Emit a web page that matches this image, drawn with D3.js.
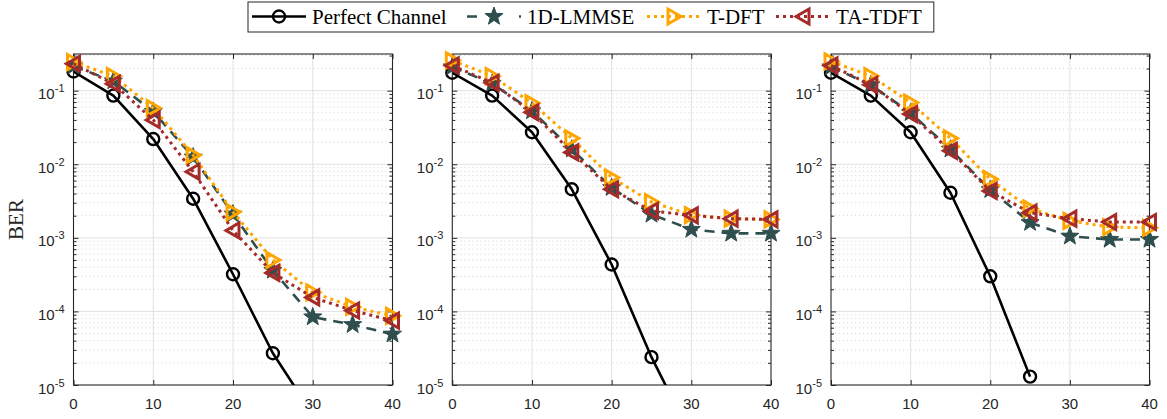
<!DOCTYPE html>
<html>
<head>
<meta charset="utf-8">
<script src="https://cdn.jsdelivr.net/npm/d3@7"></script>
<style>
html,body{margin:0;padding:0;background:#fff;}
svg{display:block;}
</style>
</head>
<body>
<svg id="chart" width="1167" height="419"></svg>
<script>
// ---------- DATA ----------
const snr = [0, 5, 10, 15, 20, 25, 30, 35, 40];
const seriesNames = ["Perfect Channel", "1D-LMMSE", "T-DFT", "TA-TDFT"];
const xTickValues = [0, 10, 20, 30, 40];
const yTickExponents = [-1, -2, -3, -4, -5];

// Panel 1
const perfect1 = [0.182, 0.0857, 0.022, 0.0034, 3.2e-4, 2.7e-5, 4e-6, null, null];
const lmmse1   = [0.215, 0.135, 0.052, 0.0125, 0.0021, 3.6e-4, 8.4e-5, 6.6e-5, 4.9e-5];
const tdft1    = [0.245, 0.158, 0.058, 0.0133, 0.00224, 5.0e-4, 1.82e-4, 1.15e-4, 8.7e-5];
const tatdft1  = [0.232, 0.124, 0.040, 0.0079, 0.00126, 3.34e-4, 1.55e-4, 1.03e-4, 7.5e-5];
// Panel 2
const perfect2 = [0.175, 0.0857, 0.0272, 0.00457, 4.34e-4, 2.39e-5, 2e-6, null, null];
const lmmse2   = [0.21, 0.125, 0.053, 0.016, 0.0048, 0.00208, 0.0013, 0.00115, 0.00115];
const tdft2    = [0.258, 0.158, 0.068, 0.0225, 0.0066, 0.00307, 0.00204, 0.00182, 0.00178];
const tatdft2  = [0.220, 0.128, 0.0508, 0.0145, 0.00457, 0.00232, 0.00202, 0.00182, 0.00178];
// Panel 3
const perfect3 = [0.175, 0.0857, 0.0272, 0.0041, 3.0e-4, 1.3e-5, null, null, null];
const lmmse3   = [0.21, 0.12, 0.05, 0.016, 0.0045, 0.00161, 0.00105, 0.00095, 0.00095];
const tdft3    = [0.25, 0.158, 0.069, 0.0225, 0.00627, 0.0025, 0.0017, 0.0014, 0.00137];
const tatdft3  = [0.22, 0.12, 0.048, 0.0152, 0.00434, 0.0022, 0.00182, 0.00164, 0.00164];

const panelsData = [
  [perfect1, lmmse1, tdft1, tatdft1],
  [perfect2, lmmse2, tdft2, tatdft2],
  [perfect3, lmmse3, tdft3, tatdft3]
];

// ---------- STYLE ----------
const styles = [
  {color: "#000000", width: 2.6, dash: null, marker: "circle"},
  {color: "#2F4F4F", width: 2.6, dash: "10,7", marker: "star"},
  {color: "#FFA500", width: 3, dash: "3,4", marker: "tri-right"},
  {color: "#A52A2A", width: 3, dash: "3,4", marker: "tri-left"}
];
const panelX = [[73.5, 392.5], [452.3, 771], [831, 1149.5]];
const plotTop = 54, plotBottom = 385;
const yTop = 0.315, yBottom = 1e-5;
const axisColor = "#262626";
const sansFont = "'Liberation Sans', Arial, sans-serif";
const serifFont = "'Liberation Serif', 'Times New Roman', serif";

const svg = d3.select("#chart");
const y = d3.scaleLog().domain([yBottom, yTop]).range([plotBottom, plotTop]);

function markerPath(type) {
  if (type === "star") {
    const pts = [];
    const R = 9.5, r = 3.9;
    for (let i = 0; i < 10; i++) {
      const a = -Math.PI / 2 + i * Math.PI / 5;
      const rr = i % 2 === 0 ? R : r;
      pts.push([rr * Math.cos(a), rr * Math.sin(a)]);
    }
    return "M" + pts.map(p => p.join(",")).join("L") + "Z";
  }
  if (type === "tri-right") return "M7,0L-6,-7.5L-6,7.5Z";
  if (type === "tri-left") return "M-7,0L6,-7.5L6,7.5Z";
  return null;
}

function drawMarker(g, type, color, cx, cy) {
  if (type === "circle") {
    g.append("circle").attr("cx", cx).attr("cy", cy).attr("r", 6)
      .attr("fill", "none").attr("stroke", color).attr("stroke-width", 2.4);
  } else if (type === "star") {
    g.append("path").attr("d", markerPath(type)).attr("transform", `translate(${cx},${cy})`)
      .attr("fill", color).attr("stroke", color).attr("stroke-width", 1);
  } else {
    g.append("path").attr("d", markerPath(type)).attr("transform", `translate(${cx},${cy})`)
      .attr("fill", "none").attr("stroke", color).attr("stroke-width", 3)
      .attr("stroke-linejoin", "miter");
  }
}

// minor tick values on log axis
const minorVals = [];
for (let e = -5; e <= -1; e++) {
  for (let m = 2; m <= 9; m++) {
    const v = m * Math.pow(10, e);
    if (v <= yTop) minorVals.push(v);
  }
}
const majorVals = yTickExponents.map(e => Math.pow(10, e));

panelsData.forEach((series, pi) => {
  const [x0, x1] = panelX[pi];
  const x = d3.scaleLinear().domain([0, 40]).range([x0, x1]);
  const g = svg.append("g");

  const clipId = "clip" + pi;
  svg.append("clipPath").attr("id", clipId).append("rect")
    .attr("x", x0).attr("y", plotTop).attr("width", x1 - x0).attr("height", plotBottom - plotTop);

  // minor grid
  g.append("g").selectAll("line").data(minorVals).join("line")
    .attr("x1", x0).attr("x2", x1).attr("y1", d => y(d)).attr("y2", d => y(d))
    .attr("stroke", "#cfcfcf").attr("stroke-width", 0.8).attr("stroke-dasharray", "1.2,2.8");
  // major grid
  g.append("g").selectAll("line").data(majorVals.filter(v => v > yBottom)).join("line")
    .attr("x1", x0).attr("x2", x1).attr("y1", d => y(d)).attr("y2", d => y(d))
    .attr("stroke", "#e1e1e1").attr("stroke-width", 1);
  g.append("g").selectAll("line").data(xTickValues.filter(v => v > 0 && v < 40)).join("line")
    .attr("x1", d => x(d)).attr("x2", d => x(d)).attr("y1", plotTop).attr("y2", plotBottom)
    .attr("stroke", "#e1e1e1").attr("stroke-width", 1);

  // axes via d3 axis generators (inward ticks)
  const xAxisB = d3.axisBottom(x).tickValues(xTickValues).tickSize(-5).tickFormat("");
  const xAxisT = d3.axisTop(x).tickValues(xTickValues).tickSize(-5).tickFormat("");
  const yAxisL = d3.axisLeft(y).tickValues(majorVals).tickSize(-5).tickFormat("");
  const yAxisR = d3.axisRight(y).tickValues(majorVals).tickSize(-5).tickFormat("");
  const yMinL = d3.axisLeft(y).tickValues(minorVals).tickSize(-3).tickFormat("");
  const yMinR = d3.axisRight(y).tickValues(minorVals).tickSize(-3).tickFormat("");
  [
    [xAxisB, `translate(0,${plotBottom})`],
    [xAxisT, `translate(0,${plotTop})`],
    [yAxisL, `translate(${x0},0)`],
    [yAxisR, `translate(${x1},0)`],
    [yMinL, `translate(${x0},0)`],
    [yMinR, `translate(${x1},0)`]
  ].forEach(([ax, tr]) => {
    const a = g.append("g").attr("transform", tr).call(ax);
    a.select(".domain").remove();
    a.selectAll("line").attr("stroke", axisColor).attr("stroke-width", 1);
  });
  // box
  g.append("rect").attr("x", x0).attr("y", plotTop).attr("width", x1 - x0).attr("height", plotBottom - plotTop)
    .attr("fill", "none").attr("stroke", axisColor).attr("stroke-width", 1.1);

  // x tick labels
  g.append("g").selectAll("text").data(xTickValues).join("text")
    .attr("x", d => x(d)).attr("y", 409).attr("text-anchor", "middle")
    .attr("font-family", sansFont).attr("font-size", 15).attr("fill", axisColor)
    .text(d => d);
  // y tick labels 10^e
  yTickExponents.forEach(e => {
    const ty = y(Math.pow(10, e));
    const t = g.append("text").attr("x", x0 - 9).attr("y", ty + 8.5).attr("text-anchor", "end")
      .attr("font-family", sansFont).attr("font-size", 15).attr("fill", axisColor);
    t.append("tspan").text("10");
    t.append("tspan").attr("font-size", 11).attr("dy", -7).text("-" + Math.abs(e));
  });

  // series
  series.forEach((vals, si) => {
    const st = styles[si];
    const pts = snr.map((s, i) => ({x: s, v: vals[i]}));
    const line = d3.line().defined(d => d.v != null && d.v > 0)
      .x(d => x(d.x)).y(d => y(d.v));
    const sg = g.append("g");
    sg.append("path").datum(pts).attr("d", line).attr("clip-path", `url(#${clipId})`)
      .attr("fill", "none").attr("stroke", st.color).attr("stroke-width", st.width)
      .attr("stroke-dasharray", st.dash).attr("stroke-linejoin", "round");
    pts.filter(d => d.v != null && d.v >= yBottom && d.v <= yTop * 1.5).forEach(d => {
      drawMarker(sg, st.marker, st.color, x(d.x), y(d.v));
    });
  });
});

// y label
svg.append("text").attr("transform", `translate(23,${(plotTop + plotBottom) / 2}) rotate(-90)`)
  .attr("text-anchor", "middle").attr("font-family", serifFont).attr("font-size", 21)
  .attr("fill", axisColor).text("BER");

// legend
const legY = 16.5;
const leg = svg.append("g");
const legBox = leg.append("rect").attr("y", 2).attr("height", 30).attr("x", 248)
  .attr("fill", "#fff").attr("stroke", axisColor).attr("stroke-width", 1);
const sampleStarts = [252, 467, 647, 776];
const sampleLen = 54;
let lastEnd = 0;
seriesNames.forEach((name, i) => {
  const st = styles[i];
  const sx = sampleStarts[i];
  leg.append("line").attr("x1", sx).attr("x2", sx + sampleLen).attr("y1", legY).attr("y2", legY)
    .attr("stroke", st.color).attr("stroke-width", st.width)
    .attr("stroke-dasharray", i === 1 ? "10,42,2,10" : st.dash);
  drawMarker(leg, st.marker, st.color, sx + sampleLen / 2, legY);
  const t = leg.append("text").attr("x", sx + sampleLen + 6).attr("y", legY + 7)
    .attr("font-family", serifFont).attr("font-size", 21).attr("fill", "#000").text(name);
  lastEnd = sx + sampleLen + 6 + t.node().getComputedTextLength();
});
legBox.attr("width", lastEnd + 12 - 248);
</script>
</body>
</html>
